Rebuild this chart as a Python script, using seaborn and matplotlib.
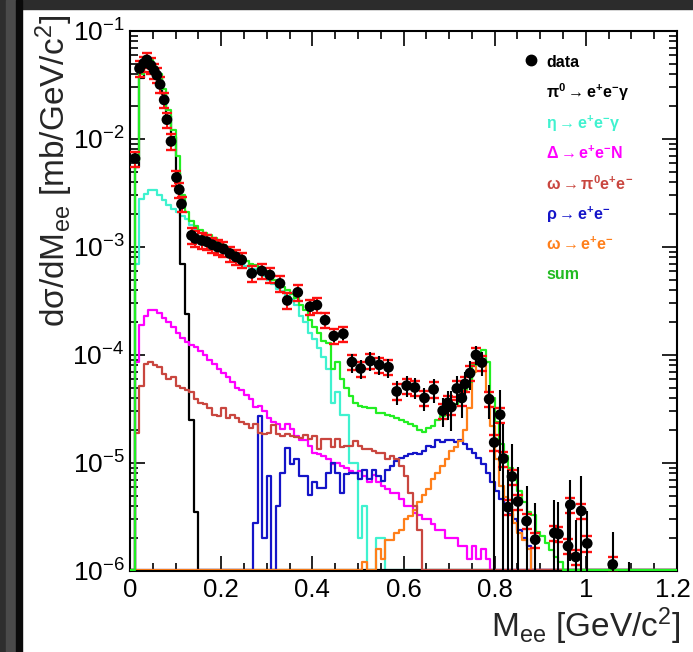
import numpy as np
import pandas as pd
import matplotlib
matplotlib.use("Agg")
import matplotlib.pyplot as plt
import matplotlib.transforms as mtransforms
from matplotlib.lines import Line2D
from matplotlib.patches import Rectangle
from matplotlib.ticker import MultipleLocator, LogLocator, NullFormatter
import seaborn as sns

# ---------------- data ----------------
# histogram bins: 0.01 GeV/c^2 from 0 to 1.2
bin_edges = np.linspace(0.0, 1.2, 121)

pi0_dalitz = [0, 5.5e-3, 0.037, 0.049, 0.050, 0.043, 0.037, 0.026, 0.0165, 0.0105,
              4.8e-3, 7.0e-4, 2.4e-4, 2.5e-5, 3.5e-6] + [0] * 105

eta_dalitz = [0, 7e-4, 2.8e-3, 3.1e-3, 3.4e-3, 3.4e-3, 3.0e-3, 2.7e-3, 2.45e-3, 2.25e-3,
              2.1e-3, 1.95e-3, 1.8e-3, 1.6e-3, 1.45e-3, 1.35e-3, 1.26e-3, 1.18e-3, 1.1e-3, 1.03e-3,
              9.6e-4, 9.0e-4, 8.4e-4, 7.8e-4, 7.2e-4, 6.7e-4, 6.3e-4, 6.2e-4, 5.7e-4, 5.4e-4,
              4.9e-4, 4.5e-4, 4.1e-4, 3.9e-4, 3.5e-4, 3.3e-4, 2.9e-4, 2.3e-4, 2.0e-4, 1.6e-4,
              1.4e-4, 1.15e-4, 9.5e-5, 7.4e-5, 3.6e-5, 4.5e-5, 2.8e-5, 2.8e-5, 1.0e-5, 1.0e-5,
              2.0e-6, 4.0e-6, 0, 0, 2.0e-6, 2.0e-6] + [0] * 64

delta_dalitz = [0, 8.6e-5, 1.9e-4, 2.3e-4, 2.6e-4, 2.6e-4, 2.45e-4, 2.2e-4, 2.0e-4, 1.8e-4,
                1.6e-4, 1.45e-4, 1.32e-4, 1.25e-4, 1.18e-4, 1.08e-4, 1.0e-4, 8.9e-5, 8.2e-5, 7.4e-5,
                6.8e-5, 6.2e-5, 5.6e-5, 5.0e-5, 4.7e-5, 4.3e-5, 3.9e-5, 3.3e-5, 3.4e-5, 3.0e-5,
                2.6e-5, 2.4e-5, 2.3e-5, 2.05e-5, 2.3e-5, 2.05e-5, 1.78e-5, 1.65e-5, 1.65e-5, 1.44e-5,
                1.25e-5, 1.2e-5, 1.16e-5, 1.1e-5, 9.8e-6, 1.0e-5, 9.4e-6, 9.0e-6, 8.4e-6, 8.0e-6,
                8.4e-6, 7.6e-6, 6.6e-6, 7.8e-6, 6.6e-6, 6.1e-6, 5.8e-6, 5.3e-6, 5.3e-6, 4.6e-6,
                4.0e-6, 4.0e-6, 3.45e-6, 3.3e-6, 3.0e-6, 3.0e-6, 2.7e-6, 2.4e-6, 2.4e-6, 2.0e-6,
                2.0e-6, 2.0e-6, 1.7e-6, 1.7e-6, 1.3e-6, 1.7e-6, 1.3e-6, 1.6e-6, 1.3e-6] + [0] * 41

omega_dalitz = [0, 1.9e-5, 5.2e-5, 8.3e-5, 8.6e-5, 8.0e-5, 7.8e-5, 6.6e-5, 6.0e-5, 6.3e-5,
                5.2e-5, 5.0e-5, 4.7e-5, 4.5e-5, 3.9e-5, 3.6e-5, 3.5e-5, 3.2e-5, 2.8e-5, 2.7e-5,
                3.2e-5, 2.6e-5, 2.8e-5, 2.6e-5, 2.4e-5, 2.3e-5, 2.1e-5, 2.3e-5, 1.9e-5, 1.85e-5,
                1.9e-5, 2.25e-5, 1.85e-5, 1.78e-5, 1.85e-5, 1.78e-5, 1.73e-5, 1.7e-5, 1.8e-5, 1.66e-5,
                1.78e-5, 1.35e-5, 1.66e-5, 1.66e-5, 1.4e-5, 1.66e-5, 1.4e-5, 1.45e-5, 1.45e-5, 1.6e-5,
                1.44e-5, 1.35e-5, 1.35e-5, 1.3e-5, 1.25e-5, 1.25e-5, 1.09e-5, 1.16e-5, 1.1e-5, 9.4e-6,
                7.6e-6, 5.3e-6, 4.0e-6, 2.4e-6] + [0] * 56

rho_ee = [0] * 27 + [2.8e-6, 2.7e-5, 2.0e-6, 7.6e-6, 0, 4.0e-6, 8.1e-6, 1.39e-5, 9.7e-6, 1.08e-5,
                     7.6e-6, 7.6e-6, 5.1e-6, 6.6e-6, 5.9e-6, 5.9e-6, 8.1e-6, 1.0e-5, 8.1e-6, 5.3e-6,
                     7.9e-6, 8.1e-6, 8.1e-6, 7.1e-6, 8.7e-6, 7.1e-6, 8.7e-6, 7.5e-6, 6.8e-6, 8.7e-6,
                     9.4e-6, 1.05e-5, 1.12e-5, 1.16e-5, 1.2e-5, 1.25e-5, 1.22e-5, 1.29e-5, 1.44e-5, 1.4e-5,
                     1.62e-5, 1.55e-5, 1.62e-5, 1.62e-5, 1.55e-5, 1.62e-5, 1.5e-5, 1.35e-5, 1.25e-5, 1.12e-5,
                     9.7e-6, 8.1e-6, 6.6e-6, 5.5e-6, 4.6e-6, 4.0e-6, 3.4e-6, 3.0e-6, 2.4e-6, 2.0e-6,
                     1.7e-6] + [0] * 32

omega_ee = [0] * 51 + [1.2e-6, 0, 0, 1.6e-6, 1.3e-6, 1.95e-6, 1.95e-6, 2.25e-6, 2.4e-6,
                       3.0e-6, 3.2e-6, 3.7e-6, 4.4e-6, 5.1e-6, 5.7e-6, 7.1e-6, 8.1e-6, 9.4e-6, 1.09e-5,
                       1.3e-5, 1.4e-5, 1.6e-5, 2.0e-5, 3.2e-5, 7.0e-5, 9.5e-5, 8.0e-5, 4.5e-5, 2.2e-5,
                       1.1e-5, 6.1e-6, 4.8e-6, 3.7e-6, 2.8e-6, 2.25e-6, 1.95e-6, 1.6e-6] + [0] * 32

sum_cocktail = [0, 6.2e-3, 0.040, 0.052, 0.054, 0.046, 0.040, 0.029, 0.0187, 0.0122,
                6.9e-3, 3.0e-3, 2.1e-3, 1.75e-3, 1.55e-3, 1.45e-3, 1.36e-3, 1.28e-3, 1.2e-3, 1.12e-3,
                1.05e-3, 9.8e-4, 9.2e-4, 8.6e-4, 8.0e-4, 7.4e-4, 7.0e-4, 6.8e-4, 6.3e-4, 6.0e-4,
                5.5e-4, 5.0e-4, 4.6e-4, 4.3e-4, 4.0e-4, 3.7e-4, 3.4e-4, 2.9e-4, 2.6e-4, 2.1e-4,
                1.8e-4, 1.6e-4, 1.35e-4, 1.3e-4, 7.4e-5, 8.7e-5, 6.0e-5, 5.0e-5, 4.2e-5, 3.6e-5,
                3.4e-5, 3.3e-5, 3.2e-5, 3.2e-5, 2.9e-5, 2.9e-5, 2.8e-5, 2.7e-5, 2.6e-5, 2.5e-5,
                2.4e-5, 2.3e-5, 2.2e-5, 2.0e-5, 1.95e-5, 2.1e-5, 2.2e-5, 2.5e-5, 2.7e-5, 3.0e-5,
                3.2e-5, 3.5e-5, 3.9e-5, 4.7e-5, 5.6e-5, 8.0e-5, 1.05e-4, 1.12e-4, 8.6e-5, 4.0e-5,
                2.4e-5, 1.5e-5, 1.15e-5, 9.0e-6, 7.0e-6, 5.5e-6, 4.4e-6, 3.5e-6, 3.3e-6, 2.3e-6,
                2.1e-6, 1.8e-6, 1.55e-6, 1.35e-6, 1.2e-6] + [0] * 25

# measured data points
data_mass = [0.011, 0.021, 0.030, 0.037, 0.046, 0.053, 0.059, 0.066, 0.075, 0.081,
             0.090, 0.102, 0.108, 0.113, 0.135, 0.143, 0.157, 0.168, 0.180, 0.192,
             0.205, 0.219, 0.232, 0.245, 0.267, 0.289, 0.307, 0.329, 0.345, 0.368,
             0.395, 0.410, 0.428, 0.447, 0.468, 0.487, 0.506, 0.527, 0.547, 0.567,
             0.585, 0.607, 0.625, 0.646, 0.666, 0.686, 0.697, 0.705, 0.717, 0.728,
             0.735, 0.746, 0.759, 0.772, 0.788, 0.799, 0.812, 0.819, 0.829, 0.838,
             0.851, 0.870, 0.889, 0.931, 0.940, 0.961, 0.966, 0.978, 0.990, 1.003,
             1.059, 1.095]
data_xsec = [6.6e-3, 0.045, 0.050, 0.054, 0.048, 0.043, 0.039, 0.032, 0.023, 0.0151,
             9.5e-3, 4.4e-3, 3.4e-3, 2.5e-3, 1.28e-3, 1.2e-3, 1.15e-3, 1.12e-3, 1.05e-3, 1.0e-3,
             9.6e-4, 8.7e-4, 8.1e-4, 7.6e-4, 5.7e-4, 6.0e-4, 5.5e-4, 4.6e-4, 3.2e-4, 3.8e-4,
             2.8e-4, 2.9e-4, 2.1e-4, 1.5e-4, 1.57e-4, 8.6e-5, 7.5e-5, 8.8e-5, 8.1e-5, 7.7e-5,
             4.6e-5, 5.2e-5, 5.0e-5, 4.0e-5, 4.8e-5, 3.05e-5, 3.6e-5, 3.3e-5, 4.9e-5, 4.0e-5,
             5.4e-5, 6.8e-5, 1.0e-4, 8.5e-5, 3.9e-5, 1.55e-5, 2.8e-5, 1.1e-5, 3.9e-6, 7.5e-6,
             4.4e-6, 2.9e-6, 1.95e-6, 2.25e-6, 2.2e-6, 1.7e-6, 4.1e-6, 1.35e-6, 3.6e-6, 1.8e-6,
             1.15e-6, 6.0e-7]
# statistical error, relative to the value
data_stat_rel = [0.05, 0.03, 0.03, 0.03, 0.03, 0.03, 0.03, 0.03, 0.03, 0.03,
                 0.04, 0.05, 0.05, 0.05, 0.05, 0.05, 0.05, 0.05, 0.05, 0.05,
                 0.05, 0.06, 0.06, 0.06, 0.07, 0.07, 0.07, 0.08, 0.09, 0.09,
                 0.10, 0.10, 0.10, 0.12, 0.12, 0.20, 0.20, 0.20, 0.20, 0.20,
                 0.25, 0.22, 0.22, 0.25, 0.25, 0.30, 0.30, 0.40, 0.30, 0.35,
                 0.30, 0.30, 0.20, 0.25, 0.35, 1.10, 0.70, 1.10, 1.20, 1.00,
                 1.10, 1.10, 1.20, 1.00, 1.00, 1.20, 0.70, 1.20, 1.10, 1.00,
                 1.00, 1.00]
# systematic error, relative to the value
data_syst_rel = 0.16

legend_labels = ["data",
                 r"$\mathbf{\pi^{0}\rightarrow e^{+}e^{-}\gamma}$",
                 r"$\mathbf{\eta\rightarrow e^{+}e^{-}\gamma}$",
                 r"$\mathbf{\Delta\rightarrow e^{+}e^{-}N}$",
                 r"$\mathbf{\omega\rightarrow \pi^{0}e^{+}e^{-}}$",
                 r"$\mathbf{\rho\rightarrow e^{+}e^{-}}$",
                 r"$\mathbf{\omega\rightarrow e^{+}e^{-}}$",
                 "sum"]
x_ticks = [0.0, 0.2, 0.4, 0.6, 0.8, 1.0, 1.2]
x_tick_labels = ["0", "0.2", "0.4", "0.6", "0.8", "1", "1.2"]

# ---------------- style ----------------
sns.set_theme(style="ticks")
plt.rcParams["font.family"] = ["Liberation Sans", "DejaVu Sans"]
plt.rcParams["mathtext.fontset"] = "custom"
plt.rcParams["mathtext.rm"] = "Liberation Sans"
plt.rcParams["mathtext.it"] = "Liberation Sans:italic"
plt.rcParams["mathtext.bf"] = "Liberation Sans:bold"
plt.rcParams["mathtext.sf"] = "Liberation Sans"
plt.rcParams["mathtext.default"] = "regular"
plt.rcParams["axes.unicode_minus"] = False

C_BLACK = "#000000"
C_CYAN = "#3ff2cf"
C_MAGENTA = "#ff00ff"
C_BROWN = "#c9463f"
C_BLUE = "#1414c8"
C_ORANGE = "#ff7f1a"
C_GREEN = "#22ee22"

Y_MIN, Y_MAX = 1e-6, 1e-1
ZERO_FLOOR = 1.03e-6   # empty bins are drawn on the lower frame, as in ROOT

fig = plt.figure(figsize=(6.93, 6.52), dpi=100, facecolor="white")
ax = fig.add_axes([130 / 693, 1 - 571 / 652, 547 / 693, 540 / 652])
ax.set_facecolor("white")

centers = 0.5 * (bin_edges[:-1] + bin_edges[1:])


def draw_hist(values, color, z):
    vals = np.maximum(np.asarray(values, dtype=float), ZERO_FLOOR)
    frame = pd.DataFrame({"mass": centers, "xsec": vals})
    sns.histplot(data=frame, x="mass", weights="xsec", bins=list(bin_edges),
                 element="step", fill=False, color=color, linewidth=1.6, ax=ax, zorder=z)


draw_hist(eta_dalitz, C_CYAN, 2.0)
draw_hist(pi0_dalitz, C_BLACK, 2.1)
draw_hist(delta_dalitz, C_MAGENTA, 2.2)
draw_hist(rho_ee, C_BLUE, 2.3)
draw_hist(omega_ee, C_ORANGE, 2.4)
draw_hist(omega_dalitz, C_BROWN, 2.5)
draw_hist(sum_cocktail, C_GREEN, 2.6)

ax.set_yscale("log", nonpositive="clip")

dm = np.asarray(data_mass)
dv = np.asarray(data_xsec)
ax.errorbar(dm, dv, yerr=dv * data_syst_rel, fmt="none", ecolor="#ff1010",
            elinewidth=1.4, capsize=3.8, capthick=1.7, zorder=5)
ax.errorbar(dm, dv, yerr=dv * np.asarray(data_stat_rel), fmt="none", ecolor="black",
            elinewidth=1.5, capsize=0, zorder=6)
sns.scatterplot(x=dm, y=dv, color="black", s=60, edgecolor="none", zorder=7, ax=ax)

ax.set_xlim(0, 1.2)
ax.set_ylim(Y_MIN, Y_MAX)

# ticks
ax.set_xticks(x_ticks)
ax.set_xticklabels(x_tick_labels)
ax.xaxis.set_minor_locator(MultipleLocator(0.05))
ax.yaxis.set_major_locator(LogLocator(base=10, numticks=10))
ax.yaxis.set_minor_locator(LogLocator(base=10, subs=np.arange(2, 10), numticks=20))
ax.yaxis.set_minor_formatter(NullFormatter())
ax.tick_params(which="both", direction="in", top=True, right=True, colors="black")
ax.tick_params(axis="y", labelsize=19)
ax.tick_params(axis="x", labelsize=18.5)
ax.tick_params(which="major", length=11, width=1.2)
ax.tick_params(which="minor", length=5.5, width=1.2)
ax.tick_params(axis="x", which="major", pad=5)
ax.tick_params(axis="y", which="major", pad=4)
for s in ax.spines.values():
    s.set_linewidth(1.5)
    s.set_color("black")
    s.set_visible(True)

# keep the last x tick label inside the picture
last_label = ax.get_xticklabels()[-1]
last_label.set_transform(last_label.get_transform() +
                         mtransforms.ScaledTranslation(-3 / 72, 0, fig.dpi_scale_trans))

ax.set_xlabel(r"M$_{ee}$ [GeV/c$^{2}$]", fontsize=24, loc="right")
ax.xaxis.set_label_coords(1.007, -0.064)
ax.set_ylabel(r"d$\sigma$/dM$_{ee}$ [mb/GeV/c$^{2}$]", fontsize=24, loc="top")
ax.yaxis.set_label_coords(-0.101, 1.03)

# legend
handles = [Line2D([], [], marker="o", color="black", linestyle="none", markersize=7.5)]
handles += [Line2D([], [], linestyle="none") for _ in legend_labels[1:]]
leg = ax.legend(handles, legend_labels, loc="upper left", bbox_to_anchor=(0.7245, 0.9605),
                frameon=False, handlelength=0.65, handletextpad=0.6,
                handleheight=1.4, labelspacing=0.67, borderpad=0, borderaxespad=0,
                labelcolor=[C_BLACK, C_BLACK, C_CYAN, C_MAGENTA, C_BROWN, C_BLUE, C_ORANGE,
                            "#22bb22"],
                prop={"weight": "bold", "size": 11.5})

# dark border strips of the screenshot
fig.patches.append(Rectangle((0, 1 - 9 / 652), 1, 9 / 652, transform=fig.transFigure,
                             color="#2c2c2c", zorder=0))
fig.patches.append(Rectangle((0, 0), 6 / 693, 1, transform=fig.transFigure,
                             color="#2e2e2e", zorder=0))
fig.patches.append(Rectangle((6 / 693, 0), 10 / 693, 1, transform=fig.transFigure,
                             color="#4a4a4a", zorder=0))
fig.patches.append(Rectangle((16 / 693, 0), 6 / 693, 1, transform=fig.transFigure,
                             color="#0a0a0a", zorder=0))

fig.savefig("out.png", dpi=100, facecolor="white")
